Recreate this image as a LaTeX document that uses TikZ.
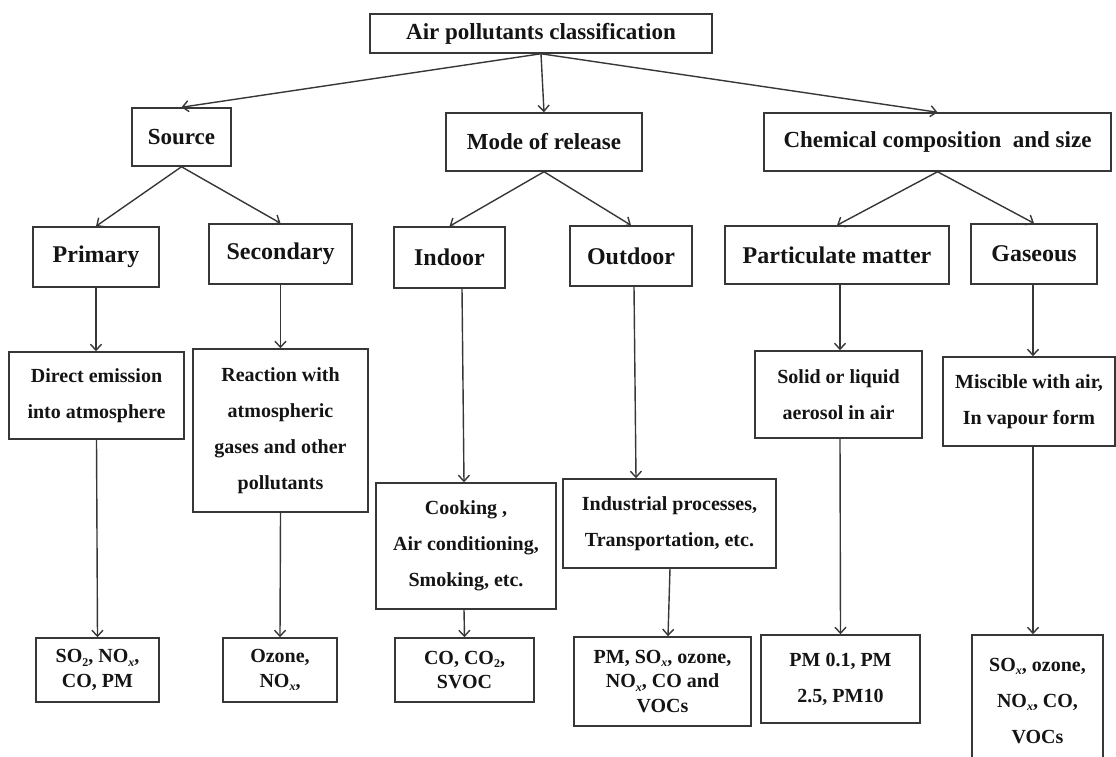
\documentclass[tikz,border=0pt]{standalone}
\usepackage{fontspec}
\setmainfont{Liberation Serif}
\usetikzlibrary{arrows.meta,calc}
\definecolor{ln}{RGB}{55,55,55}
\definecolor{tx}{RGB}{20,20,20}
\newcommand{\lo}[1]{\raisebox{-0.35ex}{\fontsize{12}{12}\selectfont #1}}
\begin{document}
\begin{tikzpicture}[x=1pt,y=-1pt,
  box/.style={draw=ln, line width=1.5pt, rectangle, inner sep=0pt, align=center, text=tx},
  big/.style={box, font=\fontsize{23}{28}\selectfont\bfseries},
  mid/.style={box, font=\fontsize{24}{28}\selectfont\bfseries},
  desc/.style={box, font=\fontsize{20}{36}\selectfont\bfseries},
  leaf/.style={box, font=\fontsize{20}{24.5}\selectfont\bfseries},
  arr/.style={draw=ln, line width=1.4pt, -{Straight Barb[length=6pt,width=11pt]}}]
\useasboundingbox (0,0) rectangle (1116,756);
\clip (0,0) rectangle (1116,756);
% level 0
\node[big, minimum width=342, minimum height=39] (top) at (541,33.5) {Air pollutants classification};
% level 1
\node[big, minimum width=99, minimum height=58] (src) at (181.5,137) {Source};
\node[big, minimum width=196, minimum height=58] (mode) at (544,142) {Mode of release};
\node[big, minimum width=347, minimum height=58] (chem) at (937.5,142) {Chemical composition\ \ and size};
% level 2
\node[mid, minimum width=126, minimum height=60] (prim) at (96,257) {Primary};
\node[mid, minimum width=143, minimum height=60] (sec) at (280.5,254) {Secondary};
\node[mid, minimum width=111, minimum height=61] (ind) at (449.5,257.5) {Indoor};
\node[mid, minimum width=122, minimum height=60] (out) at (631,256) {Outdoor};
\node[mid, minimum width=224, minimum height=58] (part) at (837,255) {Particulate matter};
\node[mid, minimum width=126, minimum height=60] (gas) at (1034,254) {Gaseous};
% level 3
\node[desc, minimum width=175, minimum height=87] (direct) at (96.5,395.5) {Direct emission\\into atmosphere};
\node[desc, minimum width=175, minimum height=163] (react) at (280.5,430.5) {Reaction with\\atmospheric\\gases and other\\pollutants};
\node[desc, minimum width=180, minimum height=126] (cook) at (466,546) {Cooking ,\\Air conditioning,\\Smoking, etc.};
\node[desc, minimum width=213, minimum height=89] (indus) at (669.5,523.5) {Industrial processes,\\Transportation, etc.};
\node[desc, minimum width=167, minimum height=87] (solid) at (838.5,394.5) {Solid or liquid\\aerosol in air};
\node[desc, minimum width=172, minimum height=89] (misc) at (1029,401.5) {Miscible with air,\\In vapour form};
% level 4
\node[leaf, minimum width=123, minimum height=64] (so2) at (97.5,670) {SO\lo{2}, NO\lo{\itshape x},\\CO, PM};
\node[leaf, minimum width=114, minimum height=64] (ozone) at (280,670) {Ozone,\\NO\lo{\itshape x},};
\node[leaf, minimum width=139, minimum height=64] (co) at (464.5,670) {CO, CO\lo{2},\\SVOC};
\node[leaf, minimum width=177, minimum height=89] (pmsox) at (662.5,681.5) {PM, SO\lo{\itshape x}, ozone,\\NO\lo{\itshape x}, CO and\\VOCs};
\node[desc, minimum width=159, minimum height=88] (pm01) at (840.5,679) {PM 0.1, PM\\2.5, PM10};
\node[desc, minimum width=131, minimum height=132] (soxoz) at (1037.5,701) {SO\lo{\itshape x}, ozone,\\NO\lo{\itshape x}, CO,\\VOCs};
% connectors
\draw[arr] (top.south) -- (src.north);
\draw[arr] (top.south) -- (mode.north);
\draw[arr] (top.south) -- (chem.north);
\draw[arr] (src.south) -- (prim.north);
\draw[arr] (src.south) -- (sec.north);
\draw[arr] (mode.south) -- (ind.north);
\draw[arr] (mode.south) -- (out.north);
\draw[arr] (chem.south) -- (part.north);
\draw[arr] (chem.south) -- (gas.north);
\draw[arr] (prim.south) -- (direct.north -| prim.south);
\draw[arr] (sec.south) -- (react.north);
\draw[arr] ($(ind.south)+(12.5,0)$) -- ($(cook.north)+(-2,0)$);
\draw[arr] ($(out.south)+(3,0)$) -- ($(indus.north)+(-33.5,0)$);
\draw[arr] ($(part.south)+(3,0)$) -- ($(solid.north)+(1.5,0)$);
\draw[arr] ($(gas.south)+(-1,0)$) -- ($(misc.north)+(4,0)$);
\draw[arr] (direct.south) -- (so2.north);
\draw[arr] (react.south) -- (ozone.north);
\draw[arr] ($(cook.south)+(-2,0)$) -- (co.north);
\draw[arr] ($(indus.south)+(0.5,0)$) -- ($(pmsox.north)+(5.5,0)$);
\draw[arr] ($(solid.south)+(1.5,0)$) -- (pm01.north);
\draw[arr] ($(misc.south)+(4,0)$) -- ($(soxoz.north)+(-4.5,0)$);
\end{tikzpicture}
\end{document}
